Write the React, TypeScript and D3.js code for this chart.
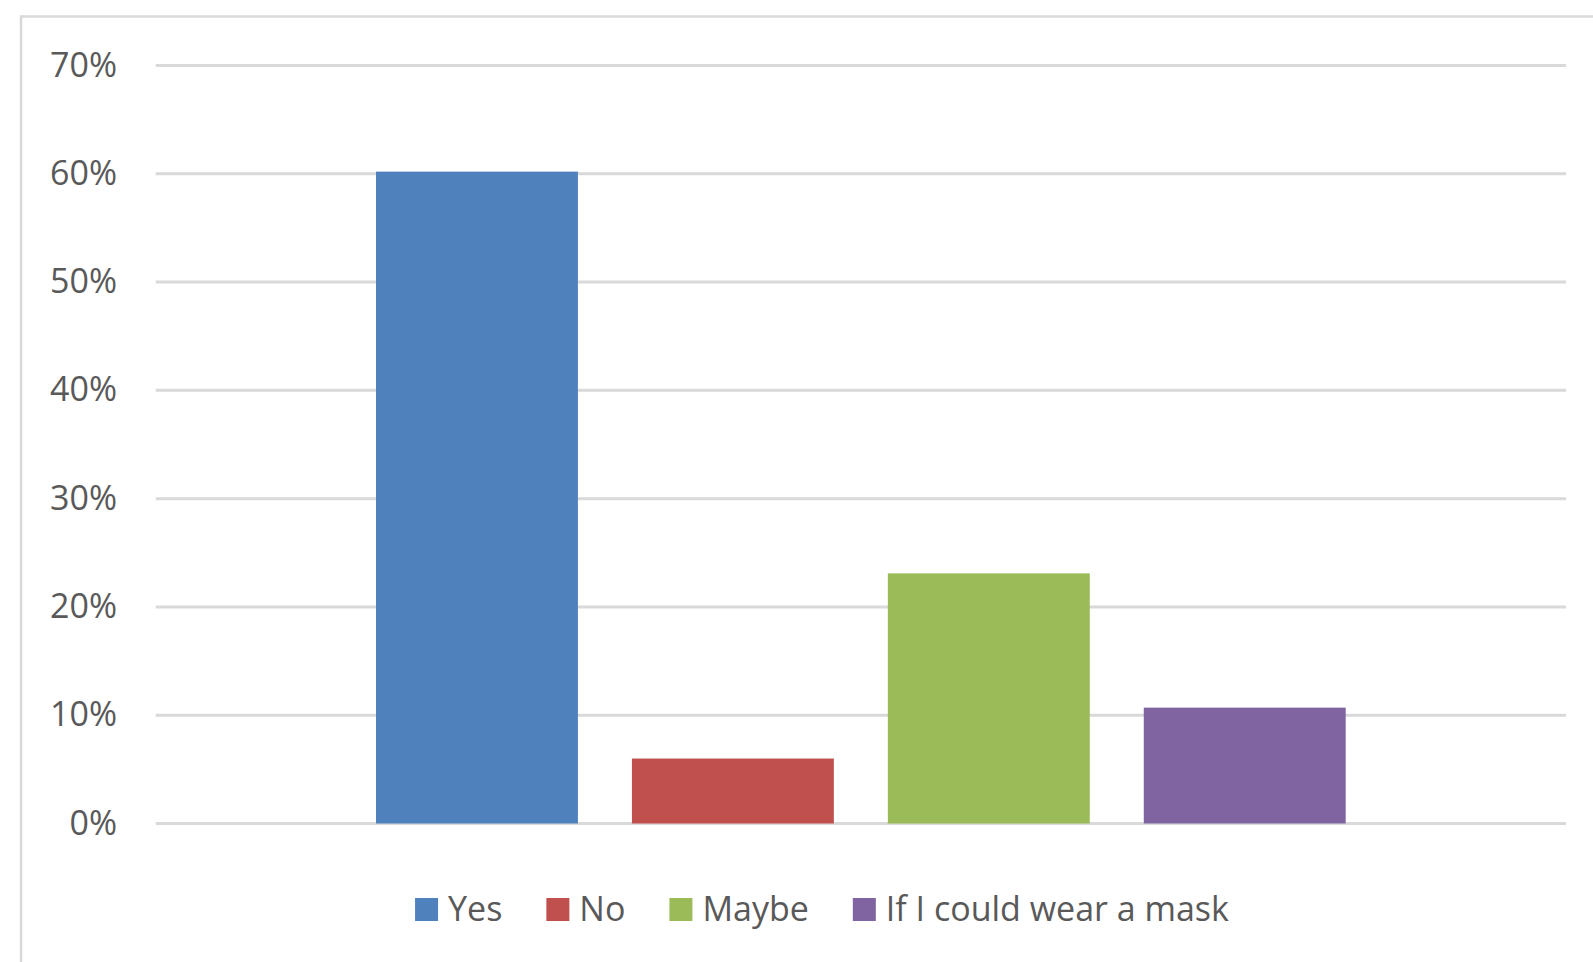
import React from "react";
import * as d3 from "d3";

// Survey answers: one category, four series
const seriesNames = ["Yes", "No", "Maybe", "If I could wear a mask"];
const seriesValues = [0.602, 0.06, 0.231, 0.107];
const seriesColors = ["#4f81bd", "#c0504d", "#9bbb59", "#8064a2"];
const yTicks = [0, 0.1, 0.2, 0.3, 0.4, 0.5, 0.6, 0.7];

const WIDTH = 1593;
const HEIGHT = 962;
const FONT = "'Open Sans', sans-serif";
const FONT_SIZE = 34;
const TEXT_COLOR = "#595959";
const GRID_COLOR = "#d9d9d9";

const plot = { left: 155.7, right: 1566, top: 65.5, bottom: 823.5 };

function measure(text: string): number {
  const ctx = document.createElement("canvas").getContext("2d");
  if (!ctx) return text.length * FONT_SIZE * 0.5;
  ctx.font = `${FONT_SIZE}px 'Open Sans'`;
  return ctx.measureText(text).width;
}

export default function App() {
  const y = d3.scaleLinear().domain([0, 0.7]).range([plot.bottom, plot.top]);
  const groupInset = 220.3;
  const x = d3
    .scaleBand<string>()
    .domain(seriesNames)
    .range([plot.left + groupInset, plot.right - groupInset])
    .paddingInner(0.211)
    .paddingOuter(0);
  const fmt = d3.format(".0%");

  // Legend layout: swatch, gap, label, gap
  const swatch = 23;
  const swatchGap = 10;
  const itemGap = 44;
  const widths = seriesNames.map(measure);
  const total =
    widths.reduce((a, w) => a + swatch + swatchGap + w, 0) +
    itemGap * (seriesNames.length - 1);
  let cursor = 822 - total / 2;
  const legendItems = seriesNames.map((name, i) => {
    const item = { name, color: seriesColors[i], x: cursor };
    cursor += swatch + swatchGap + widths[i] + itemGap;
    return item;
  });

  return (
    <svg
      width={WIDTH}
      height={HEIGHT}
      style={{ position: "absolute", left: 0, top: 0, display: "block", background: "#fff" }}
      fontFamily={FONT}
    >
      <rect x={0} y={0} width={WIDTH} height={HEIGHT} fill="#fff" />
      {/* chart area border */}
      <rect
        x={21}
        y={16.5}
        width={WIDTH + 40}
        height={HEIGHT + 40}
        fill="none"
        stroke={GRID_COLOR}
        strokeWidth={2.5}
      />
      {/* gridlines */}
      {yTicks.map((t) => (
        <line
          key={t}
          x1={plot.left}
          x2={plot.right}
          y1={y(t)}
          y2={y(t)}
          stroke={GRID_COLOR}
          strokeWidth={3}
        />
      ))}
      {/* y-axis labels */}
      {yTicks.map((t) => (
        <text
          key={t}
          x={117}
          y={y(t) + 11}
          textAnchor="end"
          fontSize={FONT_SIZE}
          fill={TEXT_COLOR}
        >
          {fmt(t)}
        </text>
      ))}
      {/* bars */}
      {seriesNames.map((name, i) => (
        <rect
          key={name}
          x={x(name)}
          y={y(seriesValues[i])}
          width={x.bandwidth()}
          height={y(0) - y(seriesValues[i])}
          fill={seriesColors[i]}
        />
      ))}
      {/* legend */}
      {legendItems.map((it) => (
        <g key={it.name}>
          <rect x={it.x} y={898} width={swatch} height={swatch} fill={it.color} />
          <text
            x={it.x + swatch + swatchGap}
            y={921}
            fontSize={FONT_SIZE}
            fill={TEXT_COLOR}
          >
            {it.name}
          </text>
        </g>
      ))}
    </svg>
  );
}
